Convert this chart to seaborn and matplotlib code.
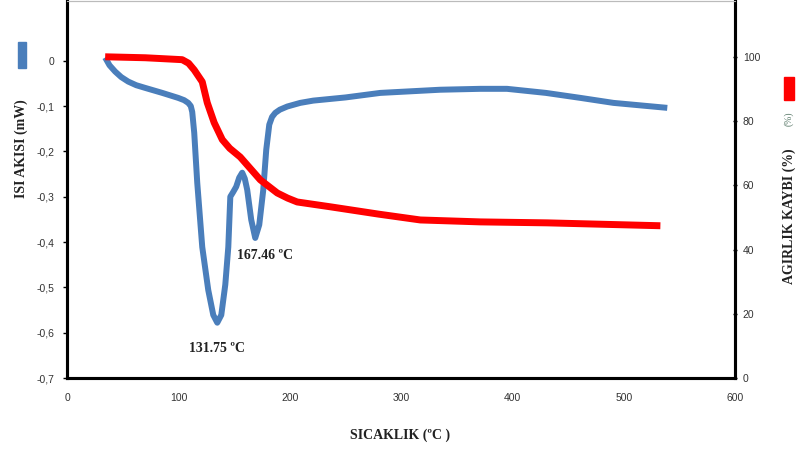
import matplotlib
matplotlib.use("Agg")
import matplotlib.pyplot as plt
from matplotlib.patches import Rectangle
from matplotlib.ticker import FuncFormatter
import seaborn as sns
import pandas as pd

# DSC egrisi (ISI AKISI, mW)
dsc_sicaklik = [34.1, 38.0, 43.1, 48.5, 54.8, 62.0, 70.1, 85.4, 99.7, 105.0, 108.7, 111.0,
                112.3, 114.1, 116.8, 121.3, 126.7, 131.2, 134.8, 138.4, 142.0, 144.7,
                146.5, 149.0, 151.8, 154.5, 157.2, 159.5, 161.7, 165.3, 168.9, 172.5,
                176.1, 178.8, 181.5, 184.0, 186.9, 191.0, 197.7, 209.3, 221.0, 250.0,
                281.2, 335.0, 371.0, 395.0, 430.0, 461.0, 490.6, 539.0]
dsc_isi = [0.007, -0.010, -0.024, -0.036, -0.046, -0.054, -0.060, -0.071, -0.082, -0.087,
           -0.093, -0.100, -0.113, -0.159, -0.269, -0.411, -0.506, -0.561, -0.578, -0.561,
           -0.494, -0.411, -0.300, -0.290, -0.278, -0.258, -0.247, -0.260, -0.285, -0.351,
           -0.391, -0.362, -0.285, -0.196, -0.141, -0.124, -0.115, -0.108, -0.101, -0.093,
           -0.088, -0.081, -0.071, -0.064, -0.062, -0.062, -0.071, -0.082, -0.093, -0.104]

# TGA egrisi (AGIRLIK KAYBI, %)
tga_sicaklik = [34.1, 70.1, 103.3, 109.0, 114.1, 121.3, 125.8, 132.0, 139.3, 146.0,
                155.4, 173.4, 188.7, 198.0, 206.6, 236.3, 280.0, 317.2, 371.0, 431.3, 532.8]
tga_agirlik = [100.0, 99.7, 99.1, 98.0, 95.9, 92.2, 85.7, 79.5, 74.2, 71.5,
               68.8, 61.7, 57.6, 56.0, 54.8, 53.3, 51.0, 49.2, 48.6, 48.3, 47.4]

# Pik etiketleri
pik_metin = ["131.75 \u00baC", "167.46 \u00baC"]

x_ticks = [0, 100, 200, 300, 400, 500, 600]
sol_ticks = [0, -0.1, -0.2, -0.3, -0.4, -0.5, -0.6, -0.7]
sag_ticks = [0, 20, 40, 60, 80, 100]

sns.set_theme(style="white")
plt.rcParams["font.family"] = ["Liberation Sans", "DejaVu Sans"]

df_dsc = pd.DataFrame({"T": dsc_sicaklik, "Q": dsc_isi})
df_tga = pd.DataFrame({"T": tga_sicaklik, "W": tga_agirlik})

fig = plt.figure(figsize=(8, 4.5), dpi=100)
ax = fig.add_axes([0.084, 0.16, 0.835, 0.838])
ax2 = ax.twinx()

sns.lineplot(data=df_dsc, x="T", y="Q", ax=ax, color="#4a7ebb", lw=4.3,
             sort=False, estimator=None, solid_capstyle="butt", solid_joinstyle="round")
sns.lineplot(data=df_tga, x="T", y="W", ax=ax2, color="#ff0000", lw=5,
             sort=False, estimator=None, solid_capstyle="butt", solid_joinstyle="round")

ax.set_xlim(0, 600)
ax.set_ylim(-0.7, 0.132)
ax2.set_ylim(0, 117.4)

ax.set_xticks(x_ticks)
ax.set_yticks(sol_ticks)
ax2.set_yticks(sag_ticks)
ax.yaxis.set_major_formatter(FuncFormatter(lambda v, p: ("%g" % round(v, 1)).replace(".", ",")))

for a in (ax, ax2):
    a.tick_params(labelsize=7.5, labelcolor="#333333", length=3, width=1, color="black")
    a.set_xlabel("")
    a.set_ylabel("")
    for side in ("left", "bottom", "right"):
        a.spines[side].set_linewidth(2.2)
        a.spines[side].set_color("black")
    a.spines["top"].set_linewidth(0.8)
    a.spines["top"].set_color("#bbbbbb")
ax.tick_params(axis="x", pad=8)
ax.tick_params(axis="y", left=True, pad=6)
ax2.tick_params(axis="y", right=True, direction="inout", pad=4)
ax.tick_params(axis="x", bottom=False)

serif = ["Liberation Serif", "DejaVu Serif"]
ax.annotate(pik_metin[0], xy=(dsc_sicaklik[18], dsc_isi[18]), xytext=(0, -14),
            textcoords="offset points", ha="center", va="top",
            fontsize=10, fontweight="bold", family=serif, color="#222222")
ax.annotate(pik_metin[1], xy=(dsc_sicaklik[30], dsc_isi[30]), xytext=(-13, -8),
            textcoords="offset points", ha="left", va="top",
            fontsize=10, fontweight="bold", family=serif, color="#222222")

fig.text(0.5, 0.033, "SICAKLIK (\u00baC )", ha="center", va="center",
         fontsize=10, fontweight="bold", family=serif, color="#222222")
fig.text(0.027, 0.67, "ISI AKISI (mW)", rotation=90, ha="center", va="center",
         fontsize=10, fontweight="bold", family=serif, color="#222222")
fig.patches.append(Rectangle((0.022, 0.85), 0.011, 0.057, transform=fig.transFigure,
                             color="#4a7ebb", figure=fig))
fig.text(0.986, 0.52, "AGIRLIK KAYBI (%)", rotation=90, ha="center", va="center",
         fontsize=10, fontweight="bold", family=serif, color="#222222")
fig.text(0.986, 0.735, "(%)", rotation=90, ha="center", va="center",
         fontsize=7, family=serif, color="#5a7a6a")
fig.patches.append(Rectangle((0.980, 0.778), 0.012, 0.051, transform=fig.transFigure,
                             color="#ff0000", figure=fig))

fig.savefig("out.png", dpi=100)
